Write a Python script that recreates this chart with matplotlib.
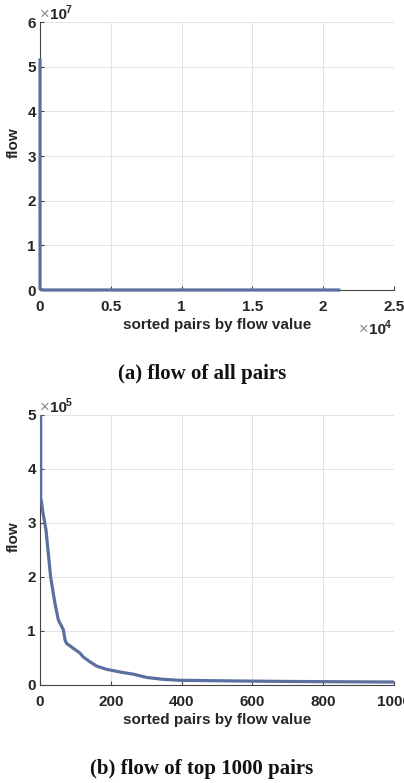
import matplotlib
matplotlib.use('Agg')
import matplotlib.pyplot as plt
from matplotlib.ticker import FuncFormatter

# sorted pair rank vs flow (top 1000 pairs)
rank_top = [1, 2, 4, 8, 17, 30, 42, 52, 60, 66, 71, 75, 94, 113, 122, 141, 160,
            188, 235, 264, 301, 348, 395, 565, 700, 850, 1000]
flow_top = [5.15e7, 3.46e5, 3.40e5, 3.20e5, 2.87e5, 2.00e5, 1.52e5, 1.20e5, 1.10e5,
            1.02e5, 0.83e5, 0.77e5, 0.68e5, 0.59e5, 0.52e5, 0.43e5, 0.35e5, 0.29e5,
            0.23e5, 0.20e5, 0.14e5, 0.105e5, 0.087e5, 0.074e5, 0.066e5, 0.060e5, 0.055e5]
# remaining tail of all pairs
rank_tail = [5000, 12000, 21100]
flow_tail = [1.5e3, 4e2, 10]

top_xticks = [0, 5000, 10000, 15000, 20000, 25000]
top_yticks = [0, 1e7, 2e7, 3e7, 4e7, 5e7, 6e7]
bot_xticks = [0, 200, 400, 600, 800, 1000]
bot_yticks = [0, 1e5, 2e5, 3e5, 4e5, 5e5]

line_col = '#5b70a0'
txt_col = '#262626'
W, H = 404, 783
fs = 11

plt.rcParams['font.family'] = ['Liberation Sans', 'DejaVu Sans']
plt.rcParams['font.weight'] = 'bold'

fig = plt.figure(figsize=(W / 100, H / 100), dpi=100)


def fx(px):
	return px / W


def fy(py):
	return 1 - py / H


def style_axes(ax, xticks, yticks, xscale, yscale):
	ax.set_xticks(xticks)
	ax.set_yticks(yticks)
	ax.set_xlim(xticks[0], xticks[-1])
	ax.set_ylim(yticks[0], yticks[-1])
	ax.xaxis.set_major_formatter(FuncFormatter(lambda v, p: ('%g' % (v / xscale))))
	ax.yaxis.set_major_formatter(FuncFormatter(lambda v, p: ('%g' % (v / yscale))))
	for s in ['top', 'right']:
		ax.spines[s].set_visible(False)
	for s in ['left', 'bottom']:
		ax.spines[s].set_color('#444444')
		ax.spines[s].set_linewidth(0.8)
	ax.tick_params(direction='in', length=3, width=0.8, color='#444444',
				   labelsize=fs, labelcolor=txt_col)
	ax.tick_params(axis='x', pad=7)
	ax.tick_params(axis='y', pad=3)
	ax.grid(True, color='#e4e4e4', linewidth=0.7)
	ax.set_axisbelow(True)
	ax.set_xlabel('sorted pairs by flow value', fontsize=fs, color=txt_col, fontweight='bold')
	ax.set_ylabel('flow', fontsize=fs, color=txt_col, fontweight='bold')
	ax.yaxis.set_label_coords(-0.055, 0.55)
	ax.xaxis.set_label_coords(0.5, -0.105)


def exponent(x, y, exp):
	# MATLAB style "x10^n" multiplier
	fig.text(fx(x), fy(y), '\u00d7', color='#8a8a8a', fontsize=12, fontweight='normal',
			 ha='left', va='baseline')
	fig.text(fx(x + 10), fy(y), '10', color=txt_col, fontsize=fs, fontweight='bold',
			 ha='left', va='baseline')
	fig.text(fx(x + 26), fy(y - 6), exp, color=txt_col, fontsize=7.5, fontweight='bold',
			 ha='left', va='baseline')


# (a) all pairs
ax1 = fig.add_axes([fx(40), fy(290), fx(394) - fx(40), fy(22) - fy(290)])
ax1.plot(rank_top + rank_tail, flow_top + flow_tail, color=line_col, linewidth=2.3,
		 zorder=3, clip_on=False, solid_joinstyle='miter')
style_axes(ax1, top_xticks, top_yticks, 1e4, 1e7)
exponent(40, 19, '7')
exponent(359, 334, '4')
fig.text(0.5, fy(379), '(a) flow of all pairs', ha='center', va='baseline',
		 fontsize=15, fontweight='bold', family='Liberation Serif', color='#111111')

# (b) top 1000 pairs
ax2 = fig.add_axes([fx(40), fy(685), fx(394) - fx(40), fy(415) - fy(685)])
ax2.plot(rank_top, flow_top, color=line_col, linewidth=2.3, zorder=3)
style_axes(ax2, bot_xticks, bot_yticks, 1, 1e5)
exponent(40, 412, '5')
fig.text(0.5, fy(774), '(b) flow of top 1000 pairs', ha='center', va='baseline',
		 fontsize=15, fontweight='bold', family='Liberation Serif', color='#111111')

fig.savefig('out.png', dpi=100)
